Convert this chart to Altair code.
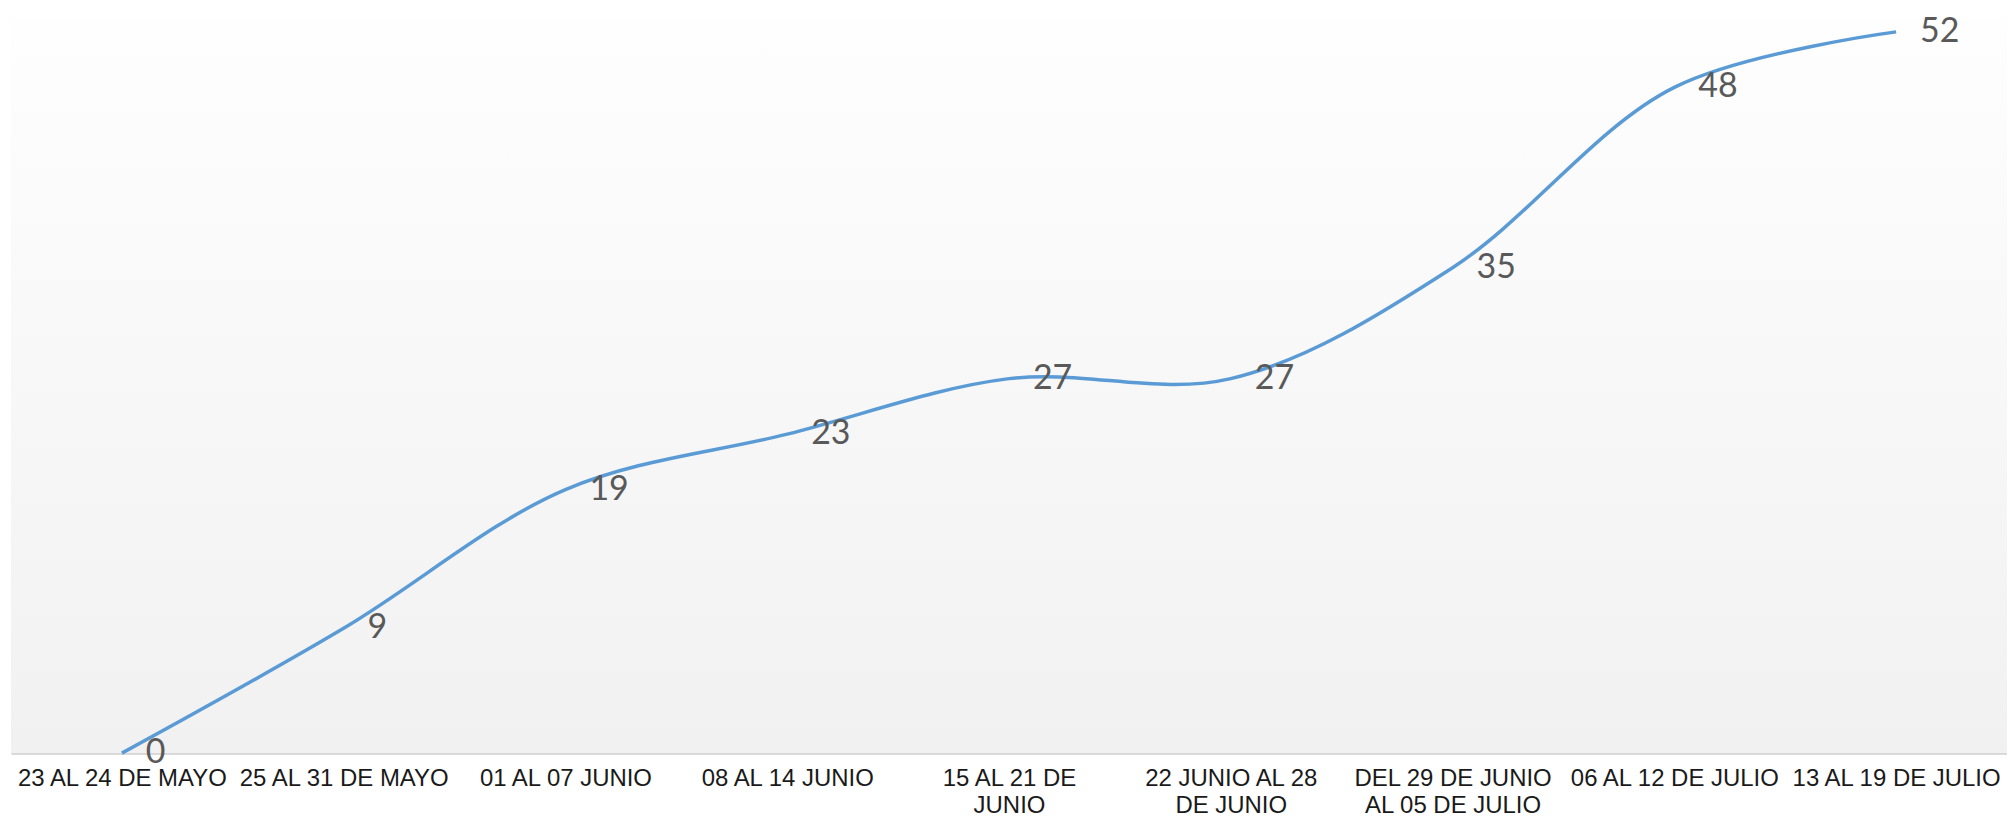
import altair as alt
import pandas as pd

categories = [
    "23 AL 24 DE MAYO",
    "25 AL 31 DE MAYO",
    "01 AL 07 JUNIO",
    "08 AL 14 JUNIO",
    "15 AL 21 DE\nJUNIO",
    "22 JUNIO AL 28\nDE JUNIO",
    "DEL 29 DE JUNIO\nAL 05 DE JULIO",
    "06 AL 12 DE JULIO",
    "13 AL 19 DE JULIO",
]
values = [0, 9, 19, 23, 27, 27, 35, 48, 52]

df = pd.DataFrame({"periodo": categories, "casos": values})

W, H = 2001, 737

x = alt.X(
    "periodo:N",
    sort=categories,
    scale=alt.Scale(paddingInner=0, paddingOuter=0),
    axis=alt.Axis(
        title=None,
        ticks=False,
        labelAngle=0,
        labelFont="Liberation Sans",
        labelFontSize=24,
        labelColor="#1a1a1a",
        labelPadding=13,
        labelLineHeight=28,
        labelLimit=400,
        labelOverlap=False,
        labelExpr="split(datum.label, '\\n')",
        domainColor="#d0d0d0",
        domainWidth=2,
    ),
)
y = alt.Y("casos:Q", scale=alt.Scale(domain=[0, 53], nice=False, zero=True), axis=None)

bg = alt.Chart(alt.Data(values=[{"a": 1}])).mark_rect(
    fill=alt.Gradient(
        gradient="linear",
        stops=[
            alt.GradientStop(color="#fefefe", offset=0),
            alt.GradientStop(color="#f1f1f1", offset=1),
        ],
        x1=0, x2=0, y1=0, y2=1,
    )
).encode(x=alt.value(0), x2=alt.value(W), y=alt.value(0), y2=alt.value(H))

base = alt.Chart(df)

line = base.mark_line(color="#5b9bd5", strokeWidth=3.5, interpolate="catmull-rom").encode(x=x, y=y)

labels = base.mark_text(
    align="left", dx=24, font="Lato", fontSize=34, color="#595959", baseline="middle"
).encode(x=x, y=y, text="casos:Q")

chart = (
    alt.layer(bg, line, labels)
    .properties(width=W, height=H, padding={"left": 3, "top": 5, "right": 0, "bottom": 0})
    .configure_view(stroke=None)
    .configure(background="white")
)

chart.save("out.html", embed_options={"renderer": "svg", "actions": False})
